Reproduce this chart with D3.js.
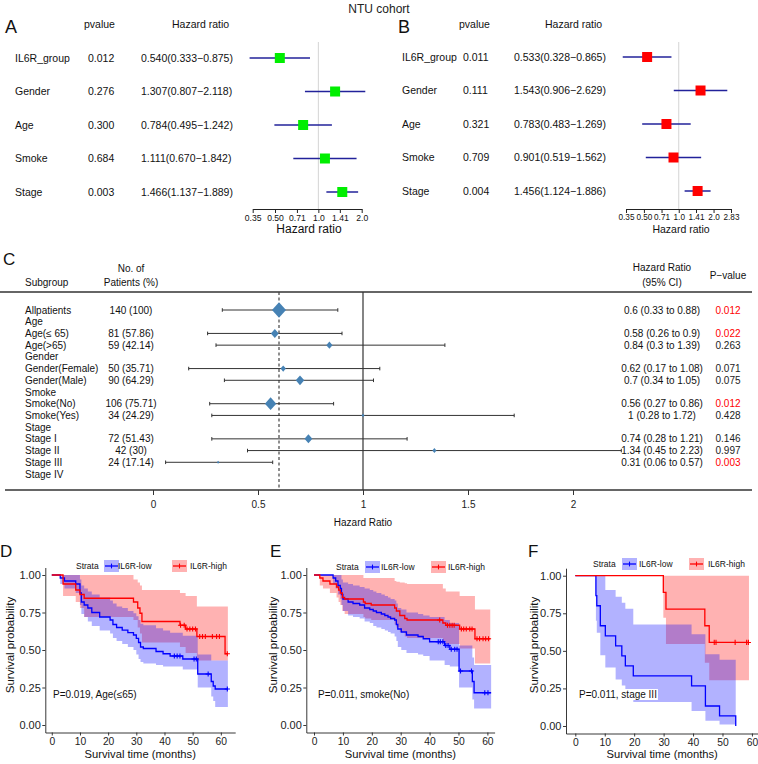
<!DOCTYPE html>
<html><head><meta charset="utf-8">
<script src="https://cdn.jsdelivr.net/npm/d3@7"></script>
<style>
body{margin:0;background:#fff}
svg{display:block}
text{font-family:"Liberation Sans",Arial,Helvetica,sans-serif;fill:#111}
</style>
</head><body>
<svg id="chart" width="758" height="764"></svg>
<script>
// ---------------- DATA ----------------
const figTitle = "NTU cohort";
// Panel A (multivariate, green)
const varsAB = ["IL6R_group","Gender","Age","Smoke","Stage"];
const pvalA = ["0.012","0.276","0.300","0.684","0.003"];
const hrA = [0.540,1.307,0.784,1.111,1.466];
const loA = [0.333,0.807,0.495,0.670,1.137];
const hiA = [0.875,2.118,1.242,1.842,1.889];
const ticksA = [0.35,0.50,0.71,1.0,1.41,2.0];
const tickLabelsA = ["0.35","0.50","0.71","1.0","1.41","2.0"];
// Panel B (red)
const pvalB = ["0.011","0.111","0.321","0.709","0.004"];
const hrB = [0.533,1.543,0.783,0.901,1.456];
const loB = [0.328,0.906,0.483,0.519,1.124];
const hiB = [0.865,2.629,1.269,1.562,1.886];
const ticksB = [0.35,0.50,0.71,1.0,1.41,2.0,2.83];
const tickLabelsB = ["0.35","0.50","0.71","1.0","1.41","2.0","2.83"];
// Panel C (subgroup forest)
const subgroups = ["Allpatients","Age","Age(\u2264 65)","Age(>65)","Gender","Gender(Female)","Gender(Male)","Smoke","Smoke(No)","Smoke(Yes)","Stage","Stage I","Stage II","Stage III","Stage IV"];
const nPatients = ["140 (100)","","81 (57.86)","59 (42.14)","","50 (35.71)","90 (64.29)","","106 (75.71)","34 (24.29)","","72 (51.43)","42 (30)","24 (17.14)",""];
const hrC = [0.6,null,0.58,0.84,null,0.62,0.7,null,0.56,1,null,0.74,1.34,0.31,null];
const loC = [0.33,null,0.26,0.3,null,0.17,0.34,null,0.27,0.28,null,0.28,0.45,0.06,null];
const hiC = [0.88,null,0.9,1.39,null,1.08,1.05,null,0.86,1.72,null,1.21,2.23,0.57,null];
const pC = ["0.012","","0.022","0.263","","0.071","0.075","","0.012","0.428","","0.146","0.997","0.003",""];
const weightC = [1,null,0.53,0.4,null,0.34,0.58,null,0.8,0.15,null,0.53,0.24,0.1,null];
const ticksC = [0,0.5,1,1.5,2];
const overallHR = 0.6;
// Panel D (Age <= 65)
const tD_low = [0,3,4.5,8.5,10,10.5,11.5,12.8,14.2,17,20.7,21.7,23,25,27,29,30,30.8,31.5,32.5,37,39.5,42,46.5,51.8,56.6,57.3,58];
const sD_low = [1,0.98,0.96,0.94,0.88,0.82,0.80,0.78,0.75,0.72,0.70,0.67,0.65,0.633,0.616,0.60,0.578,0.55,0.52,0.51,0.49,0.475,0.46,0.44,0.34,0.29,0.26,0.24];
const uD_low = [1,1,1,1,0.97,0.93,0.91,0.89,0.87,0.85,0.83,0.81,0.79,0.78,0.76,0.745,0.725,0.70,0.675,0.665,0.645,0.63,0.615,0.595,0.47,0.43,0.43,0.43];
const lD_low = [1,0.94,0.91,0.88,0.80,0.74,0.72,0.69,0.66,0.63,0.61,0.58,0.56,0.54,0.52,0.50,0.47,0.44,0.42,0.41,0.40,0.39,0.39,0.37,0.25,0.19,0.16,0.12];
const cD_low = [43.5,44.5,45.5,50.5,51.3,55.5,62.3];
const endD_low = 62.5;
const tD_high = [0,4,8.5,10,11.5,29,30.5,31.3,32,45.5,47.5,51.5,61.5];
const sD_high = [1,0.94,0.90,0.87,0.845,0.82,0.78,0.745,0.69,0.665,0.64,0.59,0.475];
const uD_high = [1,1,1,1,1,0.97,0.95,0.93,0.90,0.88,0.86,0.79,0.79];
const lD_high = [1,0.86,0.82,0.78,0.72,0.70,0.65,0.61,0.55,0.52,0.48,0.43,0.43];
const cD_high = [45.7,47,48,49,50,51,52.5,53.5,54.5,57,58.5,59.5,62.3];
const endD_high = 62.5;
// Panel E (Smoke = No)
const tE_low = [0,6.6,7.5,8.3,9.1,9.5,10,11.8,13.5,15.8,17.5,19.3,20.5,21.6,23.3,24.5,25.6,26.5,27.9,28.5,29,30.2,32,36,37.8,40,45.2,47,50.2,54.8,55.4];
const sE_low = [1,0.98,0.96,0.93,0.91,0.87,0.84,0.82,0.81,0.80,0.78,0.77,0.76,0.75,0.74,0.73,0.72,0.71,0.70,0.67,0.64,0.62,0.60,0.59,0.575,0.555,0.53,0.505,0.36,0.29,0.215];
const uE_low = [1,1,1,1,1,0.97,0.95,0.94,0.93,0.92,0.91,0.90,0.89,0.88,0.87,0.86,0.85,0.84,0.83,0.81,0.78,0.77,0.75,0.74,0.73,0.72,0.70,0.68,0.53,0.45,0.40];
const lE_low = [1,0.94,0.91,0.87,0.84,0.80,0.76,0.73,0.72,0.71,0.69,0.68,0.66,0.65,0.64,0.63,0.62,0.61,0.59,0.56,0.52,0.50,0.48,0.47,0.46,0.43,0.40,0.39,0.25,0.17,0.11];
const cE_low = [43,43.7,44.6,45.6,46.4,47.5,48.7,49.5,50.7,54.5,59.1,60.2];
const endE_low = 61.3;
const tE_high = [0,2,3.1,5.5,7.8,8.5,9.1,9.8,10.6,17.1,17.7,19.8,27.9,28.5,29.7,31.4,32.2,44.6,45.6,50.4,55.7];
const sE_high = [1,0.98,0.96,0.94,0.92,0.90,0.88,0.85,0.84,0.82,0.81,0.80,0.78,0.76,0.73,0.71,0.70,0.68,0.665,0.64,0.575];
const uE_high = [1,1,1,1,1,1,1,1,1,0.98,0.98,0.98,0.96,0.955,0.95,0.945,0.94,0.91,0.89,0.86,0.77];
const lE_high = [1,0.93,0.91,0.88,0.85,0.82,0.80,0.76,0.74,0.72,0.71,0.70,0.67,0.65,0.62,0.59,0.58,0.56,0.54,0.51,0.41];
const cE_high = [43.5,46.2,47,47.8,48.5,51,51.8,52.7,53.9,54.7,56.4,57.3,58.5,59.4,60.4];
const endE_high = 61;
// Panel F (Stage III)
const tF_low = [0,7,7.3,8.5,10.2,13.7,15.8,17,19.7,39.5,44.2,49,54.5];
const sF_low = [1,0.867,0.80,0.667,0.60,0.533,0.467,0.40,0.333,0.267,0.133,0.067,0];
const uF_low = [1,1,1,1,0.905,0.86,0.82,0.78,0.676,0.61,0.477,0.44,0.44];
const lF_low = [1,0.70,0.62,0.47,0.39,0.31,0.27,0.24,0.16,0.10,0.035,0.01,0];
const cF_low = [];
const endF_low = 54.5;
const tF_high = [0,29.9,30.8,44,45.5];
const sF_high = [1,0.889,0.778,0.667,0.556];
const uF_high = [1,1,1,1,1];
const lF_high = [1,0.72,0.545,0.42,0.305];
const cF_high = [47.2,47.8,54.3,58.2,58.8];
const endF_high = 59;
const strataLabels = ["IL6R-low","IL6R-high"];
const xTicksKM = [0,10,20,30,40,50,60];
const yTicksKM = [0,0.25,0.5,0.75,1];

// ---------------- DRAW ----------------
const svg = d3.select("#chart");
const FONT = '"Liberation Sans",Arial,Helvetica,sans-serif';
function txt(g, x, y, s, size, anchor, color) {
  return g.append("text").attr("x", x).attr("y", y).text(s)
    .attr("font-size", size).attr("text-anchor", anchor || "start")
    .style("fill", color || "#111");
}
txt(svg, 379, 13, figTitle, 12, "middle", "#222");

// ---- Panels A & B ----
function forestAB(cfg) {
  const g = svg.append("g");
  const x = d3.scaleLog().domain([cfg.ticks[0], cfg.ticks[cfg.ticks.length-1]]).range(cfg.xr);
  const y = d3.scalePoint().domain(varsAB).range(cfg.yr);
  txt(g, cfg.letterX, 33, cfg.letter, 18, "start", "#111");
  txt(g, cfg.hdrP, 28, "pvalue", 10.5);
  txt(g, cfg.hdrHR, 28, "Hazard ratio", 10.5);
  const f3 = d3.format(".3f");
  varsAB.forEach((v, i) => {
    const yy = y(v) + 3.8;
    txt(g, cfg.colL, yy, v, 10.5);
    txt(g, cfg.colP, yy, cfg.p[i], 10.5);
    txt(g, cfg.colH, yy, f3(cfg.hr[i]) + "(" + f3(cfg.lo[i]) + "\u2212" + f3(cfg.hi[i]) + ")", 10.5);
  });
  g.append("line").attr("x1", x(1)).attr("x2", x(1)).attr("y1", 42).attr("y2", 209)
    .attr("stroke", "#d4d4d4").attr("stroke-width", 1);
  varsAB.forEach((v, i) => {
    g.append("line").attr("x1", x(cfg.lo[i])).attr("x2", x(cfg.hi[i]))
      .attr("y1", y(v)).attr("y2", y(v)).attr("stroke", "#22229a").attr("stroke-width", 1.5);
    g.append("rect").attr("x", x(cfg.hr[i]) - 5).attr("y", y(v) - 5)
      .attr("width", 10).attr("height", 10).attr("fill", cfg.fill);
  });
  const ax = g.append("g").attr("transform", "translate(0,209)")
    .call(d3.axisBottom(x).tickValues(cfg.ticks).tickFormat((d, i) => cfg.tickLabels[i]).tickSize(4).tickSizeOuter(0).tickPadding(1.5));
  ax.selectAll("path,line").attr("stroke", "#222");
  ax.selectAll("text").attr("font-size", cfg.tickFs).attr("font-family", FONT).style("fill", "#111");
  txt(g, cfg.axTitleX, 232.5, "Hazard ratio", cfg.axTitleFs, "middle");
}
forestAB({letter:"A", letterX:5, hdrP:84, hdrHR:172, colL:15, colP:88, colH:141,
  xr:[252.7,361.7], yr:[58,192], p:pvalA, hr:hrA, lo:loA, hi:hiA, ticks:ticksA, tickLabels:tickLabelsA,
  fill:"#00ee00", tickFs:8.6, axTitleX:309, axTitleFs:12});
forestAB({letter:"B", letterX:398, hdrP:459, hdrHR:545, colL:402, colP:463, colH:514,
  xr:[626,731], yr:[57,191], p:pvalB, hr:hrB, lo:loB, hi:hiB, ticks:ticksB, tickLabels:tickLabelsB,
  fill:"#ff0000", tickFs:8.2, axTitleX:681, axTitleFs:10.5});

// ---- Panel C ----
(function() {
  const g = svg.append("g");
  const x = d3.scaleLinear().domain([0, 2]).range([153, 573]);
  const y = d3.scalePoint().domain(subgroups).range([310, 474]);
  txt(g, 3, 265, "C", 17);
  txt(g, 131, 272, "No. of", 10, "middle");
  txt(g, 131, 286, "Patients (%)", 10, "middle");
  txt(g, 25, 286, "Subgroup", 10);
  txt(g, 662, 271, "Hazard Ratio", 10, "middle");
  txt(g, 662, 286, "(95% CI)", 10, "middle");
  txt(g, 728, 279, "P\u2212value", 10, "middle");
  g.append("line").attr("x1", 0).attr("x2", 752).attr("y1", 292).attr("y2", 292).attr("stroke", "#333").attr("stroke-width", 1.3);
  g.append("line").attr("x1", 5).attr("x2", 752).attr("y1", 490).attr("y2", 490).attr("stroke", "#333").attr("stroke-width", 1.3);
  g.append("line").attr("x1", x(overallHR)).attr("x2", x(overallHR)).attr("y1", 292).attr("y2", 490)
    .attr("stroke", "#444").attr("stroke-width", 1.2).attr("stroke-dasharray", "3,2.5");
  g.append("line").attr("x1", x(1)).attr("x2", x(1)).attr("y1", 292).attr("y2", 490)
    .attr("stroke", "#333").attr("stroke-width", 1.2);
  const ax = g.append("g").attr("transform", "translate(0,490)")
    .call(d3.axisBottom(x).tickValues(ticksC).tickFormat(d3.format("")).tickSize(5).tickPadding(6));
  ax.select(".domain").remove();
  ax.selectAll("line").attr("stroke", "#333");
  ax.selectAll("text").attr("font-size", 10).attr("font-family", FONT).style("fill", "#222");
  txt(g, 363, 526, "Hazard Ratio", 10, "middle");
  subgroups.forEach((s, i) => {
    const yy = y(s);
    txt(g, 25, yy + 3.6, s, 10);
    if (nPatients[i]) txt(g, 131, yy + 3.6, nPatients[i], 10, "middle");
    if (hrC[i] != null) {
      const f = v => String(v);
      txt(g, 662, yy + 3.6, f(hrC[i]) + " (" + f(loC[i]) + " to " + f(hiC[i]) + ")", 10, "middle");
      const pv = +pC[i];
      txt(g, 728, yy + 3.6, pC[i], 10, "middle", pv < 0.05 ? "#ff0000" : "#222");
      g.append("line").attr("x1", x(loC[i])).attr("x2", x(hiC[i])).attr("y1", yy).attr("y2", yy)
        .attr("stroke", "#333").attr("stroke-width", 1);
      [loC[i], hiC[i]].forEach(v => g.append("line").attr("x1", x(v)).attr("x2", x(v))
        .attr("y1", yy - 1.8).attr("y2", yy + 1.8).attr("stroke", "#333").attr("stroke-width", 1));
      const w = 6.5 * weightC[i] + 0.5, h = 7 * weightC[i] + 0.8;
      const cx = x(hrC[i]);
      g.append("path").attr("d", `M${cx - w},${yy}L${cx},${yy - h}L${cx + w},${yy}L${cx},${yy + h}Z`)
        .attr("fill", "#4682b4");
    }
  });
})();

// ---- KM panels ----
function km(cfg) {
  const g = svg.append("g");
  const x = d3.scaleLinear().domain(cfg.xd).range(cfg.xr);
  const y = d3.scaleLinear().domain([-0.05, 1.05]).range(cfg.yr);
  txt(g, cfg.letterX, 557, cfg.letter, 17);
  const groups = [
    {t:cfg.low.t, s:cfg.low.s, u:cfg.low.u, l:cfg.low.l, c:cfg.low.c, end:cfg.low.end, col:"#0000ff"},
    {t:cfg.high.t, s:cfg.high.s, u:cfg.high.u, l:cfg.high.l, c:cfg.high.c, end:cfg.high.end, col:"#ff0000"}
  ];
  const pts = (gr, key) => gr.t.map((d, i) => ({t:d, v:gr[key][i], u:gr.u[i], l:gr.l[i]}))
    .concat([{t:gr.end, v:gr[key][gr.t.length-1], u:gr.u[gr.t.length-1], l:gr.l[gr.t.length-1]}]);
  const area = d3.area().x(d => x(d.t)).y0(d => y(d.l)).y1(d => y(d.u)).curve(d3.curveStepAfter);
  const line = d3.line().x(d => x(d.t)).y(d => y(d.v)).curve(d3.curveStepAfter);
  [groups[1], groups[0]].forEach(gr => {
    g.append("path").attr("d", area(pts(gr, "s"))).attr("fill", gr.col).attr("fill-opacity", 0.3);
  });
  const plus = "M-2.6,0H2.6M0,-2.6V2.6";
  groups.forEach(gr => {
    g.append("path").attr("d", line(pts(gr, "s"))).attr("fill", "none").attr("stroke", gr.col).attr("stroke-width", 1.3);
    gr.c.forEach(ct => {
      let k = 0;
      for (let i = 0; i < gr.t.length; i++) if (gr.t[i] <= ct) k = i;
      g.append("path").attr("d", plus).attr("transform", `translate(${x(ct)},${y(gr.s[k])})`)
        .attr("stroke", gr.col).attr("stroke-width", 1.1).attr("fill", "none");
    });
  });
  const axL = g.append("g").attr("transform", `translate(${cfg.xr[0]},0)`)
    .call(d3.axisLeft(y).tickValues(yTicksKM).tickFormat(d3.format(".2f")).tickSize(3).tickSizeOuter(0).tickPadding(1.5));
  const axB = g.append("g").attr("transform", `translate(0,${cfg.yr[0]})`)
    .call(d3.axisBottom(x).tickValues(xTicksKM).tickFormat(d3.format("d")).tickSize(3).tickSizeOuter(0).tickPadding(2.3));
  [axL, axB].forEach(a => {
    a.selectAll("path,line").attr("stroke", "#222").attr("stroke-width", 0.9);
  });
  axL.selectAll("text").attr("font-size", 11).attr("font-family", FONT).style("fill", "#222");
  axB.selectAll("text").attr("font-size", 10.3).attr("font-family", FONT).style("fill", "#222");
  txt(g, (cfg.xr[0] + cfg.xr[1]) / 2, 757.8, "Survival time (months)", 11.2, "middle");
  g.append("text").attr("transform", `translate(${cfg.yTitleX},645) rotate(-90)`)
    .attr("text-anchor", "middle").attr("font-size", 11.5).text("Survival probability").style("fill", "#111");
  // p-value annotation with white label background
  const bgRect = g.append("rect").attr("fill", "#fff");
  const ann = txt(g, cfg.annX, 698, cfg.ann, 10);
  const bb = ann.node().getBBox();
  bgRect.attr("x", bb.x - 1).attr("y", bb.y).attr("width", bb.width + 2).attr("height", bb.height);
  // legend
  const L = cfg.leg;
  txt(g, L[0], L[5] + 3, "Strata", 8.5);
  [[L[1], L[2], "#0000ff", strataLabels[0]], [L[3], L[4], "#ff0000", strataLabels[1]]].forEach(([kx, tx, col, lab]) => {
    g.append("rect").attr("x", kx).attr("y", L[5] - 6).attr("width", 15).attr("height", 12)
      .attr("fill", col).attr("fill-opacity", 0.3);
    g.append("line").attr("x1", kx + 1).attr("x2", kx + 14).attr("y1", L[5]).attr("y2", L[5])
      .attr("stroke", col).attr("stroke-width", 1.3);
    g.append("path").attr("d", "M0,-2.4V2.4").attr("transform", `translate(${kx + 7.5},${L[5]})`)
      .attr("stroke", col).attr("stroke-width", 1.1);
    txt(g, tx, L[5] + 3, lab, 8.5);
  });
}
km({letter:"D", letterX:0, xd:[-2.3, 65.1], xr:[45.3, 235.2], yr:[732.5, 567.5], yTitleX:14,
  low:{t:tD_low, s:sD_low, u:uD_low, l:lD_low, c:cD_low, end:endD_low},
  high:{t:tD_high, s:sD_high, u:uD_high, l:lD_high, c:cD_high, end:endD_high},
  ann:"P=0.019, Age(\u226465)", annX:53, leg:[76, 104, 118, 172, 190, 566]});
km({letter:"E", letterX:270, xd:[-2.67, 62.5], xr:[306.3, 494.6], yr:[732.5, 567.5], yTitleX:277,
  low:{t:tE_low, s:sE_low, u:uE_low, l:lE_low, c:cE_low, end:endE_low},
  high:{t:tE_high, s:sE_high, u:uE_high, l:lE_high, c:cE_high, end:endE_high},
  ann:"P=0.011, smoke(No)", annX:318, leg:[336, 365, 381, 431, 448, 567]});
km({letter:"F", letterX:528, xd:[-3.16, 62.2], xr:[566, 758.4], yr:[733.5, 568.2], yTitleX:538,
  low:{t:tF_low, s:sF_low, u:uF_low, l:lF_low, c:cF_low, end:endF_low},
  high:{t:tF_high, s:sF_high, u:uF_high, l:lF_high, c:cF_high, end:endF_high},
  ann:"P=0.011, stage III", annX:579, leg:[593, 622, 639, 689, 708, 564]});
</script>
</body></html>
